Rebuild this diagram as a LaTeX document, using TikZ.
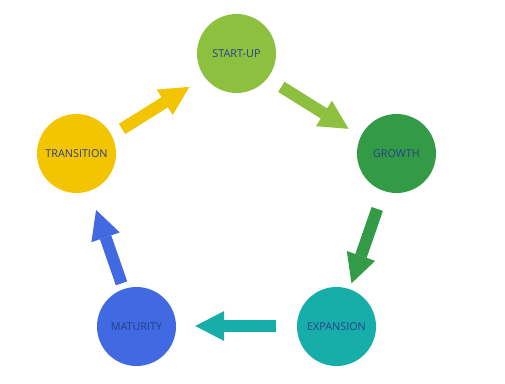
\documentclass[tikz,border=0pt]{standalone}
\usepackage{fontspec}
\setmainfont{Open Sans}
\usetikzlibrary{arrows.meta}
\definecolor{cstart}{RGB}{141,192,63}
\definecolor{cgrowth}{RGB}{51,155,69}
\definecolor{cexp}{RGB}{23,173,168}
\definecolor{cmat}{RGB}{65,105,225}
\definecolor{ctrans}{RGB}{242,197,0}
\definecolor{ctext}{RGB}{38,64,139}
\tikzset{
  stage/.style={circle, draw=none, minimum size=79pt, inner sep=0pt,
    font=\fontsize{10.8}{12}\selectfont, text=ctext},
  blockarrow/.style={line width=12pt,
    -{Triangle[width=30pt,length=29pt,line width=0pt]}}
}
\begin{document}
\begin{tikzpicture}[x=1pt,y=-1pt]
\useasboundingbox (0,0) rectangle (505,383);
\node[stage, fill=cstart]  (S) at (236.5,53.5)  {START-UP};
\node[stage, fill=cgrowth] (G) at (396.5,153.5) {GROWTH};
\node[stage, fill=cexp]    (E) at (336.5,326.5) {EXPANSION};
\node[stage, fill=cmat]    (M) at (136.5,326.5) {MATURITY};
\node[stage, fill=ctrans]  (T) at (76.5,153.5)  {TRANSITION};
\draw[blockarrow, draw=cstart, fill=cstart, shorten <=16pt, shorten >=14pt,
  transform canvas={shift={(-2.4,3.8)}}] (S) -- (G);
\draw[blockarrow, draw=cgrowth, fill=cgrowth, shorten <=19pt, shorten >=6pt] (G) -- (E);
\draw[blockarrow, draw=cexp, fill=cexp, shorten <=21pt, shorten >=19pt,
  transform canvas={shift={(0,-0.5)}}] (E) -- (M);
\draw[blockarrow, draw=cmat, fill=cmat, shorten <=6pt, shorten >=20pt] (M) -- (T);
\draw[blockarrow, draw=ctrans, fill=ctrans, shorten <=12pt, shorten >=18pt,
  transform canvas={shift={(1.75,2.8)}}] (T) -- (S);
\end{tikzpicture}
\end{document}
